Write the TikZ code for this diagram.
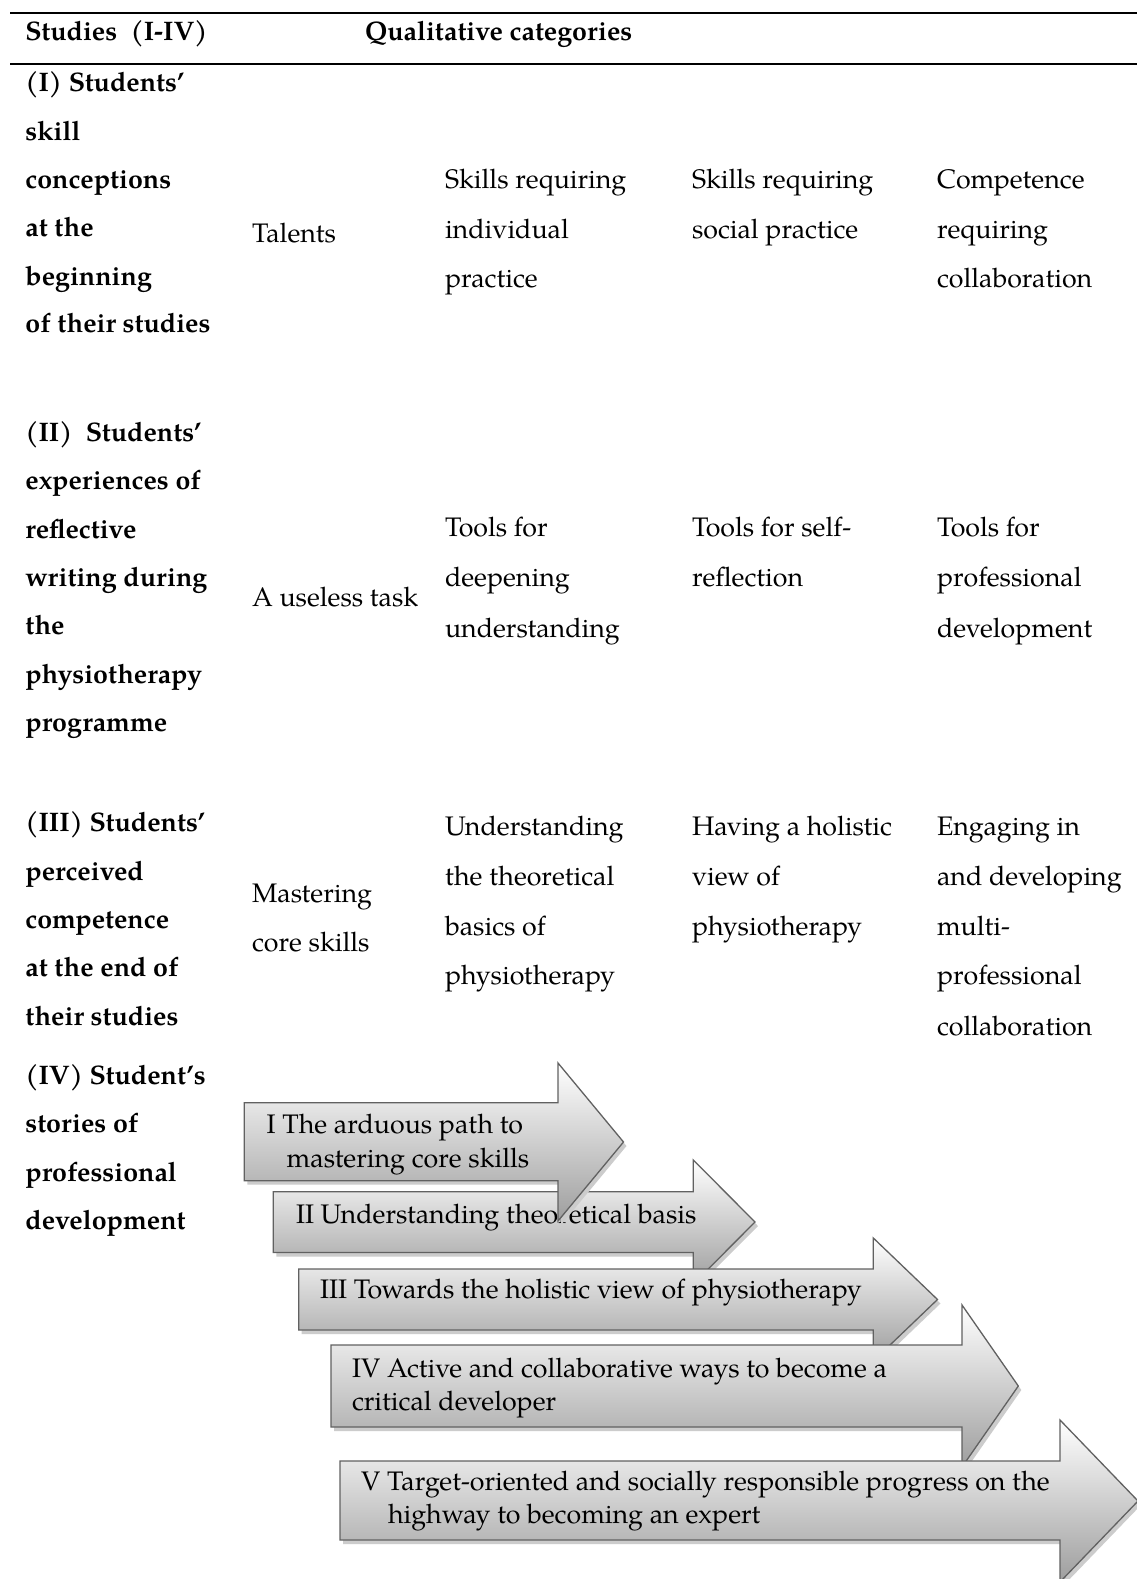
\documentclass[tikz,border=0pt]{standalone}
\usepackage{fontspec}
\setmainfont{TeX Gyre Pagella}
\tikzset{
 tx/.style={anchor=base west, inner sep=0pt, outer sep=0pt, font=\fontsize{26.8}{30}\selectfont},
 bx/.style={anchor=base west, inner sep=0pt, outer sep=0pt, font=\fontsize{26.8}{30}\selectfont\bfseries},
 arrowbody/.style={draw=black!62, line width=1.3pt, top color=white, bottom color=black!38, line join=miter},
 arrowshadow/.style={fill=black!20, draw=none},
 hrule/.style={line width=1.6pt, black}
}
\newcommand\sarrow[8]{%
 \fill[arrowshadow, shift={(3,4)}] (#1,#2) -- (#4,#2) -- (#4,#5) -- (#6,#7) -- (#4,#8) -- (#4,#3) -- (#1,#3) -- cycle;
 \path[arrowbody] (#1,#2) -- (#4,#2) -- (#4,#5) -- (#6,#7) -- (#4,#8) -- (#4,#3) -- (#1,#3) -- cycle;}
\begin{document}
\begin{tikzpicture}[x=1pt,y=-1pt]
\useasboundingbox[fill=white] (0,0) rectangle (1137,1579);
\clip (0,0) rectangle (1137,1579);
% rules
\draw[hrule] (10,13) -- (1137,13);
\draw[hrule] (10,64) -- (1137,64);
% header
\node[bx] (h1) at (25.4,40.5) {Studies\ \ (I-IV)};
\node[bx] (h2) at (365,40.5) {Qualitative categories};
% column 1
\node[bx] (a1) at (25.4,92) {(I) Students’};
\node[bx] (a2) at (25.4,140) {skill};
\node[bx] (a3) at (25.4,188.3) {conceptions};
\node[bx] (a4) at (25.4,236.6) {at the};
\node[bx] (a5) at (25.4,285) {beginning};
\node[bx] (a6) at (25.4,332.5) {of their studies};
\node[bx] (b1) at (25.4,441) {(II)\ \ Students’};
\node[bx] (b2) at (25.4,489) {experiences of};
\node[bx] (b3) at (25.4,538) {reflective};
\node[bx] (b4) at (25.4,586) {writing during};
\node[bx] (b5) at (25.4,634) {the};
\node[bx] (b6) at (25.4,683) {physiotherapy};
\node[bx] (b7) at (25.4,731) {programme};
\node[bx] (c1) at (25.4,831.7) {(III) Students’};
\node[bx] (c2) at (25.4,880) {perceived};
\node[bx] (c3) at (25.4,928.4) {competence};
\node[bx] (c4) at (25.4,976.7) {at the end of};
\node[bx] (c5) at (25.4,1025) {their studies};
\node[bx] (d1) at (25.4,1084.5) {(IV) Student’s};
\node[bx] (d2) at (25.4,1132.8) {stories of};
\node[bx] (d3) at (25.4,1181.1) {professional};
\node[bx] (d4) at (25.4,1229.5) {development};
% column 2
\node[tx] (e1) at (252,242.6) {Talents};
\node[tx] (e2) at (252,606) {A useless task};
\node[tx] (e3) at (252,902) {Mastering};
\node[tx] (e4) at (252,951.6) {core skills};
% column 3
\node[tx] (f1) at (445,188.3) {Skills requiring};
\node[tx] (f2) at (445,238) {individual};
\node[tx] (f3) at (445,287) {practice};
\node[tx] (f4) at (445,536.7) {Tools for};
\node[tx] (f5) at (445,586.7) {deepening};
\node[tx] (f6) at (445,637) {understanding};
\node[tx] (f7) at (445,835.7) {Understanding};
\node[tx] (f8) at (445,885) {the theoretical};
\node[tx] (f9) at (445,935.4) {basics of};
\node[tx] (f10) at (445,984.8) {physiotherapy};
% column 4
\node[tx] (g1) at (692,188.3) {Skills requiring};
\node[tx] (g2) at (692,238) {social practice};
\node[tx] (g3) at (692,536.7) {Tools for self-};
\node[tx] (g4) at (692,586.7) {reflection};
\node[tx] (g5) at (692,835.7) {Having a holistic};
\node[tx] (g6) at (692,885) {view of};
\node[tx] (g7) at (692,935.4) {physiotherapy};
% column 5
\node[tx] (k1) at (937,188.3) {Competence};
\node[tx] (k2) at (937,238) {requiring};
\node[tx] (k3) at (937,287) {collaboration};
\node[tx] (k4) at (937,536.7) {Tools for};
\node[tx] (k5) at (937,586.7) {professional};
\node[tx] (k6) at (937,637) {development};
\node[tx] (k7) at (937,835.7) {Engaging in};
\node[tx] (k8) at (937,885) {and developing};
\node[tx] (k9) at (937,935.4) {multi-};
\node[tx] (k10) at (937,984.8) {professional};
\node[tx] (k11) at (937,1035) {collaboration};
% arrows (drawn in stacking order)
\sarrow{273.3}{1191.7}{1252.5}{693.3}{1160}{755}{1222}{1284}
\node[tx] (p2) at (296,1223) {II Understanding theoretical basis};
\sarrow{244.3}{1102.7}{1180.7}{558}{1063}{623.5}{1142}{1221}
\node[tx] (p1a) at (266.7,1133.3) {I The arduous path to};
\node[tx] (p1b) at (286.7,1167.7) {mastering core skills};
\sarrow{298.7}{1269}{1330}{873.3}{1238}{937.5}{1299.5}{1361}
\node[tx] (p3) at (320,1298) {III Towards the holistic view of physiotherapy};
\sarrow{331}{1345}{1427}{962}{1305}{1018.3}{1386}{1467}
\node[tx] (p4a) at (352,1377) {IV Active and collaborative ways to become a};
\node[tx] (p4b) at (352,1410) {critical developer};
\sarrow{340}{1461}{1540}{1060}{1420}{1138}{1501}{1582}
\node[tx] (p5a) at (361,1490) {V Target-oriented and socially responsible progress on the};
\node[tx] (p5b) at (388,1523.3) {highway to becoming an expert};
\end{tikzpicture}
\end{document}
